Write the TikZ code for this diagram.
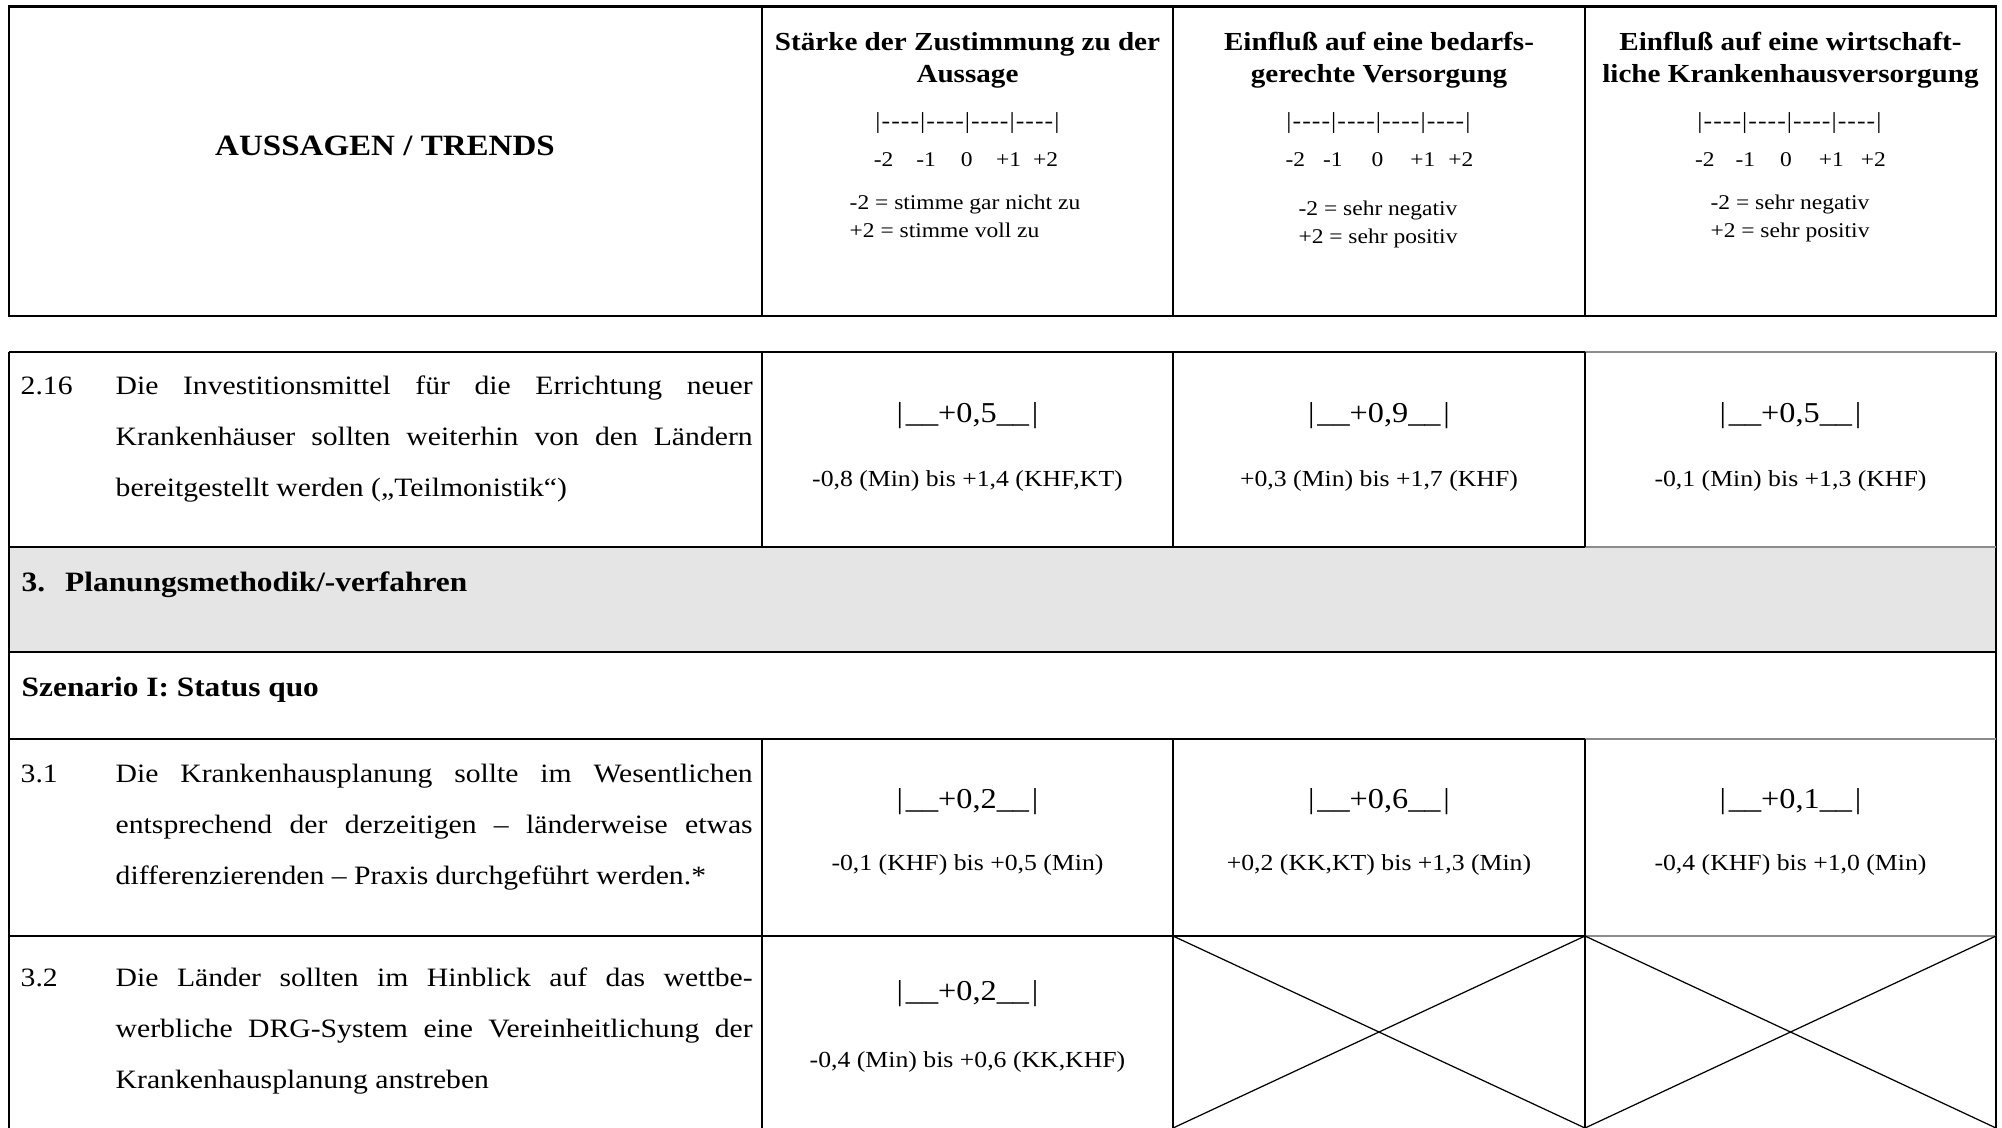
\documentclass[tikz,border=0pt]{standalone}
\usepackage{fontspec}
\setmainfont{Liberation Serif}[FakeStretch=1.12]
\usepackage{xcolor}
\usepackage{tikz}
\definecolor{zeilengrau}{HTML}{E5E5E5}
\newcommand{\strich}{\kern0.3pt-\kern0.3pt-\kern0.3pt-\kern0.3pt-\kern0.3pt}
\newcommand{\skala}{|\strich|\strich|\strich|\strich|}
\tikzstyle{rahmen} = [line width=0.8pt]
\tikzstyle{gitter} = [line width=0.6pt]
\tikzstyle{duenn} = [line width=0.4pt, draw=black!45]
\tikzstyle{kreuz} = [line width=0.35pt]
\tikzstyle{titel} = [inner sep=0, font=\bfseries\fontsize{8.39}{10}\selectfont]
\tikzstyle{kopf} = [inner sep=0, align=center, font=\bfseries\fontsize{7.4}{9.1}\selectfont]
\tikzstyle{fett} = [inner sep=0, font=\bfseries\fontsize{7.97}{9.5}\selectfont]
\tikzstyle{skalen} = [inner sep=0, font=\fontsize{6.54}{8}\selectfont]
\tikzstyle{zahlen} = [inner sep=0, font=\fontsize{5.97}{7}\selectfont]
\tikzstyle{legende} = [inner sep=0, align=center, font=\fontsize{5.97}{7.9}\selectfont]
\tikzstyle{zeile} = [inner sep=0, align=left, font=\fontsize{7.54}{14.51}\selectfont]
\tikzstyle{wert} = [inner sep=0, font=\fontsize{8.2}{9}\selectfont]
\tikzstyle{spanne} = [inner sep=0, font=\fontsize{6.54}{8}\selectfont]

\begin{document}
\begin{tikzpicture}
    \useasboundingbox (0,0) rectangle (20.02,-11.28);
    \fill [zeilengrau] (0.09,-5.47) rectangle (19.96,-6.52);

    \draw [rahmen] (0.09,-0.067) rectangle (19.96,-3.16);
    \draw [gitter] (7.62,-0.067) -- (7.62,-3.16);
    \draw [gitter] (11.73,-0.067) -- (11.73,-3.16);
    \draw [gitter] (15.85,-0.067) -- (15.85,-3.16);

    \draw [rahmen] (0.09,-3.52) -- (0.09,-11.28);
    \draw [rahmen] (19.96,-3.52) -- (19.96,-11.28);
    \draw [gitter] (0.09,-3.52) -- (15.85,-3.52);
    \draw [duenn] (15.85,-3.52) -- (19.96,-3.52);
    \draw [gitter] (0.09,-5.47) -- (15.85,-5.47);
    \draw [duenn] (15.85,-5.47) -- (19.96,-5.47);
    \draw [gitter] (0.09,-6.52) -- (19.96,-6.52);
    \draw [gitter] (0.09,-7.39) -- (15.85,-7.39);
    \draw [duenn] (15.85,-7.39) -- (19.96,-7.39);
    \draw [gitter] (0.09,-9.36) -- (15.85,-9.36);
    \draw [duenn] (15.85,-9.36) -- (19.96,-9.36);
    \draw [gitter] (7.62,-3.52) -- (7.62,-5.47);
    \draw [gitter] (11.73,-3.52) -- (11.73,-5.47);
    \draw [gitter] (15.85,-3.52) -- (15.85,-5.47);
    \draw [gitter] (7.62,-7.39) -- (7.62,-11.28);
    \draw [gitter] (11.73,-7.39) -- (11.73,-11.28);
    \draw [gitter] (15.85,-7.39) -- (15.85,-11.28);
    \draw [kreuz] (11.73,-9.36) -- (15.85,-11.28) (15.85,-9.36) -- (11.73,-11.28);
    \draw [kreuz] (15.85,-9.36) -- (19.96,-11.28) (19.96,-9.36) -- (15.85,-11.28);

    \node (aussagen) [titel, anchor=base] at (3.85,-1.55) {AUSSAGEN / TRENDS};
    \node (kopfA) [kopf, anchor=base] at (9.675,-0.82) {Stärke der Zustimmung zu der\\Aussage};
    \node (kopfB) [kopf, anchor=base] at (13.79,-0.82) {Einfluß auf eine bedarfs-\\gerechte Versorgung};
    \node (kopfC) [kopf, anchor=base] at (17.905,-0.82) {Einfluß auf eine wirtschaft-\\liche Krankenhausversorgung};
    \node (skalaA) [skalen, anchor=base] at (9.675,-1.28) {\skala};
    \node (skalaB) [skalen, anchor=base] at (13.785,-1.28) {\skala};
    \node (skalaC) [skalen, anchor=base] at (17.895,-1.28) {\skala};
    \node (zahlenA) [zahlen, anchor=base] at (9.66,-1.66) {-2\hspace{0.23cm}-1\hspace{0.25cm}0\hspace{0.235cm}+1\hspace{0.12cm}+2};
    \node (zahlenB) [zahlen, anchor=base] at (13.795,-1.66) {-2\hspace{0.18cm}-1\hspace{0.29cm}0\hspace{0.27cm}+1\hspace{0.13cm}+2};
    \node (zahlenC) [zahlen, anchor=base] at (17.905,-1.66) {-2\hspace{0.21cm}-1\hspace{0.25cm}0\hspace{0.27cm}+1\hspace{0.17cm}+2};
    \node (legendeA) [legende, align=left, anchor=base west] at (8.49,-2.37) {-2 = stimme gar nicht zu\\+2 = stimme voll zu};
    \node (legendeB) [legende, anchor=base] at (13.78,-2.43) {-2 = sehr negativ\\+2 = sehr positiv};
    \node (legendeC) [legende, anchor=base] at (17.90,-2.37) {-2 = sehr negativ\\+2 = sehr positiv};

    \node (nrA) [zeile, anchor=base west] at (0.20,-3.94) {2.16};
    \node (textA) [zeile, anchor=base west] at (1.15,-4.96) {\makebox[6.37cm][s]{Die Investitionsmittel für die Errichtung neuer}\\\makebox[6.37cm][s]{Krankenhäuser sollten weiterhin von den Ländern}\\bereitgestellt werden („Teilmonistik“)};
    \node (wertA1) [wert, anchor=base] at (9.675,-4.22) {|\kern0.8pt\_\_+0,5\_\_\kern0.8pt|};
    \node (wertA2) [wert, anchor=base] at (13.79,-4.22) {|\kern0.8pt\_\_+0,9\_\_\kern0.8pt|};
    \node (wertA3) [wert, anchor=base] at (17.905,-4.22) {|\kern0.8pt\_\_+0,5\_\_\kern0.8pt|};
    \node (spanneA1) [spanne, anchor=base] at (9.675,-4.86) {-0,8 (Min) bis +1,4 (KHF,KT)};
    \node (spanneA2) [spanne, anchor=base] at (13.79,-4.86) {+0,3 (Min) bis +1,7 (KHF)};
    \node (spanneA3) [spanne, anchor=base] at (17.905,-4.86) {-0,1 (Min) bis +1,3 (KHF)};

    \node (abschnitt) [fett, anchor=base west] at (0.21,-5.91) {3.\hspace{0.2cm}Planungsmethodik/-verfahren};
    \node (szenario) [fett, anchor=base west] at (0.21,-6.96) {Szenario I: Status quo};

    \node (nrB) [zeile, anchor=base west] at (0.20,-7.82) {3.1};
    \node (textB) [zeile, anchor=base west] at (1.15,-8.84) {\makebox[6.37cm][s]{Die Krankenhausplanung sollte im Wesentlichen}\\\makebox[6.37cm][s]{entsprechend der derzeitigen – länderweise etwas}\\differenzierenden – Praxis durchgeführt werden.*};
    \node (wertB1) [wert, anchor=base] at (9.675,-8.08) {|\kern0.8pt\_\_+0,2\_\_\kern0.8pt|};
    \node (wertB2) [wert, anchor=base] at (13.79,-8.08) {|\kern0.8pt\_\_+0,6\_\_\kern0.8pt|};
    \node (wertB3) [wert, anchor=base] at (17.905,-8.08) {|\kern0.8pt\_\_+0,1\_\_\kern0.8pt|};
    \node (spanneB1) [spanne, anchor=base] at (9.675,-8.70) {-0,1 (KHF) bis +0,5 (Min)};
    \node (spanneB2) [spanne, anchor=base] at (13.79,-8.70) {+0,2 (KK,KT) bis +1,3 (Min)};
    \node (spanneB3) [spanne, anchor=base] at (17.905,-8.70) {-0,4 (KHF) bis +1,0 (Min)};

    \node (nrC) [zeile, anchor=base west] at (0.20,-9.86) {3.2};
    \node (textC) [zeile, anchor=base west] at (1.15,-10.88) {\makebox[6.37cm][s]{Die Länder sollten im Hinblick auf das wettbe-}\\\makebox[6.37cm][s]{werbliche DRG-System eine Vereinheitlichung der}\\Krankenhausplanung anstreben};
    \node (wertC1) [wert, anchor=base] at (9.675,-10.00) {|\kern0.8pt\_\_+0,2\_\_\kern0.8pt|};
    \node (spanneC1) [spanne, anchor=base] at (9.675,-10.67) {-0,4 (Min) bis +0,6 (KK,KHF)};
\end{tikzpicture}
\end{document}
